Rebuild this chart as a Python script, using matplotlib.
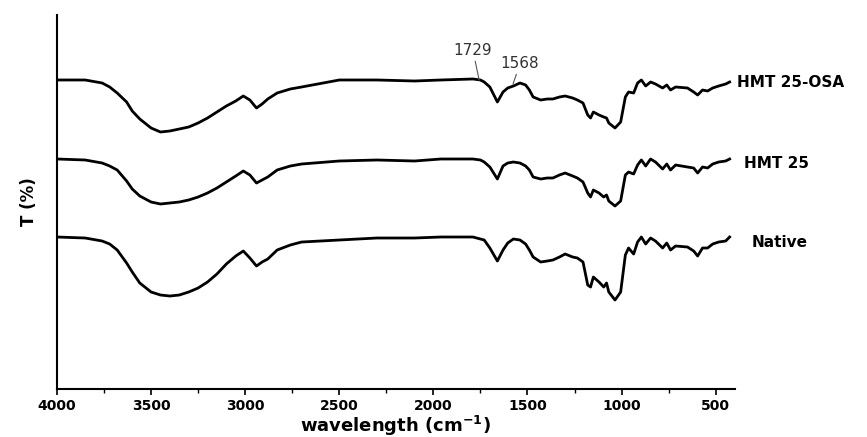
import matplotlib
matplotlib.use('Agg')
import matplotlib.pyplot as plt
from matplotlib.ticker import MultipleLocator

plt.rcParams['font.family'] = ['DejaVu Sans']

# wavenumber (cm-1) where the spectra were read
wavenumber = [4000, 3850, 3760, 3720, 3680, 3630, 3600, 3560, 3500, 3450, 3400, 3350,
              3300, 3250, 3200, 3150, 3100, 3050, 3010, 2975, 2940, 2910, 2880, 2830,
              2760, 2700, 2500, 2300, 2100, 1960, 1790, 1750, 1730, 1700, 1660, 1630,
              1605, 1575, 1540, 1510, 1490, 1470, 1430, 1395, 1365, 1330, 1300, 1260,
              1235, 1205, 1180, 1165, 1150, 1120, 1095, 1080, 1068, 1035, 1005, 980,
              963, 936, 915, 895, 872, 846, 820, 782, 760, 740, 713, 650, 617, 596,
              570, 543, 516, 484, 447, 426]

# transmittance (offset, arbitrary units)
t_osa = [309, 309, 306, 302, 296, 287, 278, 270, 261, 257, 258, 260,
         262, 266, 271, 277, 283, 288, 293, 289, 281, 285, 290, 296,
         300, 302, 309, 309, 308, 309, 310, 309, 307, 302, 287, 297,
         301, 303, 306, 304, 299, 292, 289, 290, 290, 292, 293, 291,
         289, 286, 274, 271, 277, 274, 272, 271, 266, 261, 267, 292,
         297, 296, 306, 309, 303, 307, 305, 301, 304, 299, 302, 301, 297, 294,
         299, 298, 301, 303, 305, 307]

t_hmt = [230, 229, 226, 223, 219, 208, 200, 193, 187, 185, 186, 187,
         189, 192, 196, 201, 207, 213, 218, 214, 206, 209, 212, 219,
         223, 225, 228, 229, 228, 230, 230, 229, 227, 222, 210, 223,
         226, 227, 226, 223, 219, 212, 210, 211, 211, 214, 216, 213,
         211, 207, 196, 192, 199, 196, 192, 194, 188, 183, 188, 214,
         217, 215, 224, 229, 223, 230, 227, 220, 225, 219, 224, 222, 221, 216,
         222, 221, 225, 227, 228, 230]

t_native = [152, 151, 148, 145, 139, 126, 117, 106, 97, 94, 93, 94,
            97, 101, 107, 115, 125, 133, 138, 131, 123, 127, 130, 139,
            144, 147, 149, 151, 151, 152, 152, 150, 149, 141, 128, 139,
            146, 150, 149, 145, 139, 132, 127, 128, 129, 132, 135, 132,
            131, 127, 104, 102, 112, 107, 102, 106, 97, 89, 97, 134,
            141, 135, 147, 152, 145, 151, 148, 141, 146, 139, 143, 142, 138, 133,
            141, 141, 145, 147, 148, 152]

names = ['HMT 25-OSA', 'HMT 25', 'Native']
label_pos = [(389, 306), (352, 226), (310, 147)]

fig = plt.figure(figsize=(8.67, 4.37), dpi=100)
ax = fig.add_axes([0.0657, 0.1098, 0.7815, 0.8559])

for t in [t_osa, t_hmt, t_native]:
    ax.plot(wavenumber, t, color='black', lw=2.0, solid_joinstyle='round')

for name, (x, y) in zip(names, label_pos):
    ax.text(x, y, name, fontsize=11, fontweight='bold', ha='left', va='center',
            clip_on=False)

ax.annotate('1729', xy=(1757, 309), xytext=(1789, 338), fontsize=11, color='#333333',
            ha='center', va='center',
            arrowprops=dict(arrowstyle='-', color='#555555', lw=0.8, shrinkA=0, shrinkB=0))
ax.annotate('1568', xy=(1577, 305), xytext=(1540, 325), fontsize=11, color='#333333',
            ha='center', va='center',
            arrowprops=dict(arrowstyle='-', color='#555555', lw=0.8, shrinkA=0, shrinkB=0))

ax.set_xlim(4000, 400)
ax.set_ylim(0, 374)
ax.spines['top'].set_visible(False)
ax.spines['right'].set_visible(False)
ax.spines['left'].set_linewidth(1.5)
ax.spines['bottom'].set_linewidth(1.5)
ax.set_yticks([])
ax.xaxis.set_major_locator(MultipleLocator(500))
ax.xaxis.set_minor_locator(MultipleLocator(250))
ax.tick_params(axis='x', which='major', length=4, width=1.2, labelsize=10, pad=3)
ax.tick_params(axis='x', which='minor', length=3, width=1.0)
for lab in ax.get_xticklabels():
    lab.set_fontweight('bold')

ax.set_xlabel(r'wavelength (cm$^{\mathbf{-1}}$)', fontsize=13, fontweight='bold', labelpad=1)
ax.set_ylabel('T (%)', fontsize=12, fontweight='bold', labelpad=14)

fig.savefig('out.png', dpi=100)
